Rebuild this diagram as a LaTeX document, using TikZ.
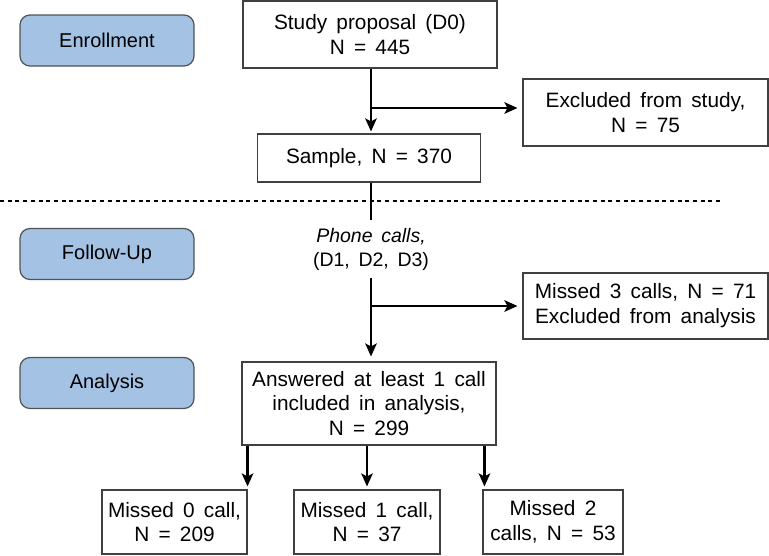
\documentclass[tikz,border=0pt]{standalone}
\usepackage{fontspec}
\setmainfont[WordSpace=1.6]{Liberation Sans}
\usetikzlibrary{arrows.meta,calc}
\definecolor{phaseblue}{HTML}{A4C2E4}
\definecolor{boxline}{HTML}{404040}
\tikzset{
  phase/.style={draw=boxline!90, line width=1.2pt, fill=phaseblue, rounded corners=10pt,
    minimum width=174pt, minimum height=51pt, inner sep=0pt, font=\fontsize{20}{24}\selectfont},
  flowbox/.style={draw=boxline, line width=1.1pt, align=center, inner sep=0pt,
    font=\fontsize{20.8}{24.8}\selectfont},
  arr/.style={line width=2.3pt, -{Stealth[length=13pt,width=11.5pt,inset=3pt]}},
  plain/.style={line width=2.3pt},
  sep/.style={line width=2.6pt, dash pattern=on 4pt off 3.7pt}
}
\begin{document}
\begin{tikzpicture}[x=1pt,y=-1pt]
\useasboundingbox (0,0) rectangle (769,555);
% phase labels
\node[phase] (enroll) at (107,40.5) {Enrollment};
\node[phase] (follow) at (107,254) {Follow-Up};
\node[phase] (analysis) at (107,383) {Analysis};
% flow boxes
\node[flowbox, minimum width=254pt, minimum height=67pt] (study) at (370,34.5) {Study proposal (D0)\\N = 445};
\node[flowbox, minimum width=245pt, minimum height=67pt] (excl) at (645.5,112.5) {Excluded from study,\\N = 75};
\node[flowbox, minimum width=223pt, minimum height=48pt] (sample) at (369,158) {Sample, N = 370};
\node[flowbox, minimum height=56pt, draw=none, font=\fontsize{19.5}{24}\selectfont] (phone) at (371,249) {\textit{Phone calls,}\\(D1, D2, D3)};
\node[flowbox, minimum width=245pt, minimum height=66pt] (miss3) at (645.5,306) {Missed 3 calls, N = 71\\Excluded from analysis};
\node[flowbox, minimum width=254pt, minimum height=83pt] (answ) at (369,403.5) {Answered at least 1 call\\included in analysis,\\N = 299};
\node[flowbox, minimum width=145pt, minimum height=64pt] (m0) at (174.5,522) {Missed 0 call,\\N = 209};
\node[flowbox, minimum width=146pt, minimum height=64pt] (m1) at (367,522) {Missed 1 call,\\N = 37};
\node[flowbox, minimum width=140pt, minimum height=64pt] (m2) at (553,522) {Missed 2\\calls, N = 53};
% separator
\coordinate (sepL) at (0,201);
\coordinate (sepR) at (722,201);
\draw[sep] (sepL) -- (sepR);
% spine
\coordinate (b1) at (371,108);
\coordinate (b2) at (371,306);
\draw[arr, shorten >=2pt] ([xshift=1pt]study.south) -- ([xshift=1pt]study.south |- sample.north);
\draw[arr, shorten >=5pt] (b1) -- (b1 -| excl.west);
\draw[plain] ([xshift=2pt]sample.south) -- (phone.north);
\draw[arr, shorten >=5pt] (phone.south) -- (phone.south |- answ.north);
\draw[arr, shorten >=5pt] (b2) -- (b2 -| miss3.west);
% bottom arrows
\draw[arr, shorten >=3pt] (answ.south -| m0.north east) -- (m0.north east);
\draw[arr, shorten >=3pt] (answ.south -| m1.north) -- (m1.north);
\draw[arr, shorten >=3pt] ([xshift=2pt]answ.south -| m2.north west) -- ([xshift=2pt]m2.north west);
\end{tikzpicture}
\end{document}
